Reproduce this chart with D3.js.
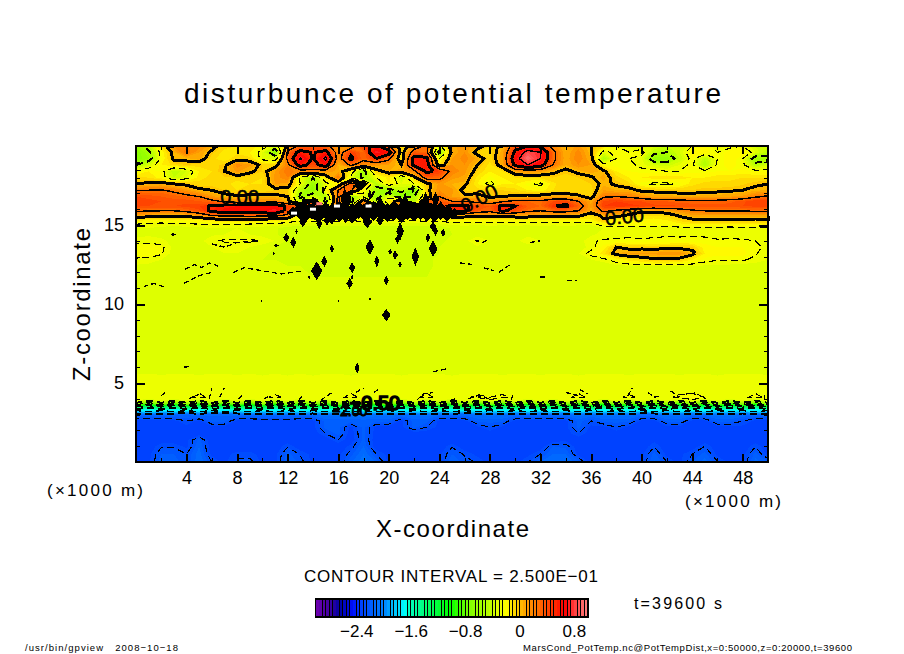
<!DOCTYPE html>
<html>
<head>
<meta charset="utf-8">
<script src="https://cdnjs.cloudflare.com/ajax/libs/d3/7.8.5/d3.min.js"></script>
<style>
html, body { margin: 0; padding: 0; background: #fff; }
svg { display: block; }
text { font-family: "Liberation Sans", sans-serif; fill: #000; }
</style>
</head>
<body>
<svg id="chart" width="904" height="654"></svg>
<script>
// grid of the field: km along x, km along z (top row first)
var xCols = d3.range(0, 51);
var zRows = [20,19.6,19.2,18.8,18.4,18,17.6,17.2,16.8,16.5,16.2,15.9,15.6,15.3,15.1,14.8,14.4,14,13.6,13.2,12.8,12.4,11,9,7,5.6,5.2,4.6,4.1,3.95,3.8,3.65,3.5,3.35,3.2,3,2.6,2.2,1.8,1.4,1,0.5,0];

// potential temperature disturbance, in hundredths of K
var potTempRows = [
[-60,-40,-10,15,20,18,6,-8,-10,-12, -18,-35,5,30,35,30,12,15,45,55, 30,-10,12,30,-30,8,14,5,-5,3, 40,50,45,18,4,12,0,-10,-25,-30, -30,-35,-40,-35,-25,-20,-30,-30,-25,-35,-40],
[-70,-55,-20,5,25,10,-3,-12,-12,-15, -30,-70,30,58,48,58,15,45,30,75, 60,-8,35,30,-60,5,15,-5,-8,8, 55,85,75,30,5,18,2,-30,-20,-25, -20,-45,-50,-35,-15,-15,-25,-15,-15,-30,-45],
[-70,-60,-22,3,3,8,-8,-15,-5,-8, -30,-35,30,78,48,80,15,55,30,50, 30,-12,60,55,-25,10,18,8,-8,10, 65,95,75,30,6,20,5,-50,-25,-25, -30,-65,-65,-40,-20,-45,-25,-15,-25,-60,-55],
[-50,-35,-15,-8,-5,-8,-8,-3,18,12, -5,-5,20,60,40,62,5,28,15,12, 10,0,55,60,-10,15,15,0,-12,8, 55,75,60,25,5,15,10,-20,-22,-22, -28,-35,-38,-30,-22,-50,-22,-18,-22,-45,-35],
[-25,-15,-20,-45,-35,-15,-10,0,12,3, -5,10,25,15,20,15,8,-15,-60,-5, 5,8,20,55,45,20,12,-5,-15,-10, 10,15,12,3,-3,3,8,3,-15,-20, -22,-22,-25,-25,-22,-22,-20,-20,-18,-22,-20],
[-8,-10,-18,-40,-30,-12,-8,-6,-5,-8, -10,12,20,-30,-50,-10,25,-30,-55,-25, -12,-40,-5,35,30,12,8,-12,-22,-15, -10,-8,-8,-5,-8,-5,-2,8,-8,-15, -15,-12,-10,-12,-15,-15,-12,-12,-10,-10,-12],
[0,3,5,0,-3,-8,-8,-6,-15,-10, -10,10,8,-25,-60,-30,-15,35,10,-45, -15,-30,-25,-5,12,5,3,-15,-30,-15, -15,-22,-28,-12,-5,-8,-5,3,-2,-8, -22,-28,-28,-22,-12,-8,-8,-8,-6,-2,0],
[25,25,26,22,12,3,0,-5,-10,-5, -8,-5,-5,-45,-65,-20,25,30,-20,-55, -60,-40,-70,-5,15,12,-5,-8,-5,-5, -8,-15,-18,-10,-8,-10,-8,10,5,5, -3,-3,-5,-5,-5,-3,-3,-2,0,3,6],
[40,38,35,32,30,25,12,4,2,2, 3,3,0,-55,-35,-50,30,-55,-30,-60, -30,-70,-50,-10,25,10,3,6,-3,0, 2,5,6,8,8,3,-5,22,25,22, 15,8,8,6,5,8,8,10,12,22,28],
[45,42,40,38,38,35,30,22,15,15, 15,18,5,-40,20,-60,35,-60,15,-45, -15,20,-50,35,35,25,25,20,15,22, 30,30,28,40,42,25,8,42,45,42, 40,35,35,32,30,30,30,33,38,45,45],
[42,40,40,40,42,45,52,58,60,62, 62,65,45,30,60,-30,30,-20,30,10, -30,35,40,-20,40,55,55,40,35,55, 50,35,30,48,55,35,10,45,48,48, 45,42,42,40,40,38,38,38,40,42,42],
[28,26,25,25,30,38,55,62,62,62, 65,75,40,-40,30,-20,20,-40,20,-10, -40,30,-30,40,-20,52,55,35,30,55, 40,28,25,30,30,25,8,30,22,15, 3,5,8,15,22,25,25,25,25,28,28],
[8,6,5,4,5,12,25,30,30,32, 30,30,20,-20,10,-25,5,-20,5,-20, -20,-5,-10,5,-5,10,8,5,5,5, 8,8,6,6,6,4,-10,5,5,-3, -8,-10,-8,2,8,8,8,8,8,8,10],
[-13,-15,-18,-18,-18,-15,-10,-8,-8,-8, -10,-12,-15,-25,-20,-25,-20,-25,-20,-25, -25,-20,-25,-20,-22,-18,-18,-18,-18,-18, -18,-18,-18,-18,-18,-18,-18,-2,-15,-15, -18,-18,-15,-8,-3,-3,-3,-3,-3,-3,-2],
[-24,-25,-26,-25,-24,-24,-23,-23,-23,-24, -24,-25,-28,-30,-30,-32,-30,-32,-30,-32, -30,-32,-30,-32,-30,-28,-27,-28,-27,-28, -27,-28,-27,-28,-27,-28,-28,-15,-18,-18, -20,-20,-18,-15,-12,-12,-12,-12,-12,-12,-10],
[-30,-30,-32,-33,-33,-32,-30,-31,-30,-32, -33,-34,-38,-39,-39,-38,-39,-38,-39,-39, -39,-38,-39,-38,-39,-34,-33,-34,-33,-33, -33,-33,-32,-33,-32,-33,-33,-30,-28,-29, -28,-28,-29,-28,-27,-28,-28,-29,-28,-28,-29],
[-32,-31,-33,-34,-33,-33,-31,-30,-29,-30, -32,-34,-38,-39,-38,-39,-38,-39,-38,-39, -38,-39,-38,-39,-38,-35,-34,-33,-32,-33, -33,-32,-33,-34,-33,-34,-31,-28,-27,-27, -27,-27,-26,-27,-26,-27,-28,-27,-28,-28,-29],
[-28,-27,-28,-33,-34,-32,-26,-24,-24,-23, -26,-30,-36,-38,-39,-38,-39,-38,-39,-38, -39,-38,-39,-38,-36,-34,-32,-24,-30,-32, -32,-26,-30,-33,-33,-33,-26,-24,-24,-23, -24,-23,-23,-22,-23,-22,-24,-24,-24,-25,-28],
[-22,-22,-23,-32,-33,-32,-30,-29,-28,-30, -33,-35,-37,-38,-38,-36,-38,-38,-36,-38, -38,-38,-36,-38,-35,-33,-32,-31,-30,-30, -32,-33,-33,-32,-32,-33,-28,-18,0,-5, -5,-6,-5,-4,-5,-18,-20,-20,-20,-22,-28],
[-22,-21,-24,-33,-34,-33,-31,-30,-30,-32, -34,-36,-37,-37,-38,-36,-38,-37,-36,-37, -37,-38,-36,-37,-35,-33,-32,-31,-31,-32, -33,-33,-32,-32,-33,-30,-22,-12,5,10, 12,12,15,14,5,-15,-18,-18,-18,-24,-30],
[-26,-27,-30,-33,-33,-33,-32,-32,-33,-33, -35,-35,-36,-36,-37,-36,-37,-36,-36,-37, -36,-36,-36,-36,-34,-33,-32,-32,-33,-33, -33,-34,-33,-33,-34,-33,-30,-28,-20,-12, -8,-3,-3,-5,-15,-22,-24,-24,-24,-27,-30],
[-31,-32,-33,-34,-32,-31,-33,-34,-34,-34, -34,-34,-35,-35,-36,-36,-36,-36,-36,-36, -36,-36,-36,-36,-34,-33,-32,-32,-31,-32, -33,-33,-34,-33,-33,-34,-33,-33,-32,-31, -31,-30,-30,-31,-30,-31,-32,-32,-33,-33,-33],
[-34,-33,-33,-34,-34,-34,-34,-34,-34,-34, -34,-34,-34,-34,-34,-34,-34,-34,-34,-34, -34,-34,-34,-34,-34,-34,-34,-34,-34,-34, -34,-34,-33,-34,-33,-33,-34,-34,-34,-34, -34,-34,-34,-34,-34,-34,-34,-34,-34,-34,-34],
[-34,-34,-34,-34,-33,-34,-34,-33,-34,-34, -34,-34,-34,-33,-34,-34,-34,-34,-34,-33, -34,-34,-34,-34,-33,-34,-34,-34,-34,-33, -34,-34,-34,-34,-33,-34,-34,-34,-34,-34, -33,-34,-34,-34,-34,-34,-33,-34,-34,-34,-34],
[-32,-33,-32,-33,-33,-32,-33,-32,-32,-33, -33,-32,-33,-33,-32,-33,-33,-33,-32,-33, -33,-32,-33,-32,-33,-32,-33,-32,-32,-33, -32,-33,-32,-33,-32,-32,-33,-32,-33,-32, -32,-33,-32,-32,-33,-32,-33,-32,-32,-33,-32],
[-30,-30,-31,-30,-30,-31,-30,-30,-31,-30, -31,-30,-31,-30,-31,-30,-30,-31,-30,-30, -30,-31,-30,-30,-30,-31,-30,-30,-30,-31, -30,-30,-31,-30,-30,-31,-30,-30,-30,-31, -30,-30,-30,-31,-30,-30,-31,-30,-30,-30,-31],
[-27,-28,-27,-28,-27,-27,-28,-27,-27,-27, -28,-27,-28,-27,-28,-27,-27,-28,-27,-27, -27,-28,-27,-27,-27,-28,-27,-27,-28,-27, -27,-28,-27,-27,-27,-28,-27,-27,-28,-27, -27,-27,-28,-27,-27,-27,-28,-27,-27,-28,-27],
[-27,-26,-27,-26,-27,-26,-26,-27,-26,-27, -26,-27,-26,-27,-26,-27,-26,-26,-27,-26, -27,-26,-27,-26,-26,-27,-26,-27,-26,-27, -26,-26,-27,-26,-27,-26,-27,-26,-26,-27, -26,-27,-26,-27,-26,-26,-27,-26,-27,-26,-26],
[-26,-25,-26,-25,-26,-24,-26,-25,-26,-25, -26,-24,-26,-25,-26,-25,-26,-24,-26,-25, -26,-25,-26,-24,-26,-25,-26,-24,-25,-24, -26,-25,-26,-25,-26,-24,-26,-25,-26,-24, -26,-25,-26,-24,-24,-25,-26,-25,-26,-24,-26],
[-25,-34,-25,-34,-25,-34,-25,-34,-25,-34, -25,-34,-25,-34,-25,-34,-25,-34,-25,-34, -25,-34,-25,-34,-25,-34,-25,-34,-25,-34, -25,-34,-25,-34,-25,-34,-25,-34,-25,-34, -25,-34,-25,-34,-25,-34,-25,-34,-25,-34,-25],
[-40,-65,-40,-65,-40,-65,-40,-65,-40,-65, -40,-65,-40,-65,-40,-65,-40,-65,-40,-65, -40,-65,-40,-65,-40,-65,-40,-65,-40,-65, -40,-65,-40,-65,-40,-65,-40,-65,-40,-65, -40,-65,-40,-65,-40,-65,-40,-65,-40,-65,-40],
[-70,-100,-70,-100,-70,-100,-70,-100,-70,-100, -70,-100,-70,-100,-70,-100,-70,-100,-70,-100, -70,-100,-70,-100,-70,-100,-70,-100,-70,-100, -70,-100,-70,-100,-70,-100,-70,-100,-70,-100, -70,-100,-70,-100,-70,-100,-70,-100,-70,-100,-70],
[-120,-140,-120,-140,-120,-140,-120,-140,-120,-140, -120,-140,-120,-140,-120,-140,-120,-140,-120,-140, -120,-140,-120,-140,-120,-140,-120,-140,-120,-140, -120,-140,-120,-140,-120,-140,-120,-140,-120,-140, -120,-140,-120,-140,-120,-140,-120,-140,-120,-140,-120],
[-150,-165,-150,-165,-150,-165,-150,-165,-150,-165, -150,-165,-150,-165,-150,-165,-150,-165,-150,-165, -150,-165,-150,-165,-150,-165,-150,-165,-150,-165, -150,-165,-150,-165,-150,-165,-150,-165,-150,-165, -150,-165,-150,-165,-150,-165,-150,-165,-150,-165,-150],
[-182,-176,-182,-176,-182,-176,-182,-176,-182,-176, -182,-176,-182,-176,-182,-176,-182,-176,-182,-176, -182,-176,-182,-176,-182,-176,-182,-176,-182,-176, -182,-176,-182,-176,-182,-176,-182,-176,-182,-176, -182,-176,-182,-176,-182,-176,-182,-176,-182,-176,-182],
[-210,-212,-210,-212,-214,-210,-214,-214,-210,-210, -208,-208,-208,-210,-210,-207,-207,-207,-204,-207, -207,-210,-207,-207,-210,-210,-212,-210,-207,-210, -210,-212,-210,-212,-210,-207,-210,-207,-207,-207, -212,-212,-207,-207,-210,-210,-207,-207,-210,-212,-210],
[-232,-232,-232,-232,-225,-232,-218,-218,-232,-232, -232,-232,-232,-232,-232,-218,-218,-218,-218,-218, -218,-232,-218,-218,-232,-232,-232,-218,-218,-218, -232,-232,-232,-232,-232,-218,-225,-218,-218,-218, -232,-232,-218,-218,-232,-232,-218,-218,-225,-232,-232],
[-232,-232,-232,-232,-232,-232,-232,-232,-232,-232, -232,-232,-232,-232,-232,-218,-218,-232,-218,-232, -232,-232,-218,-225,-232,-232,-232,-232,-225,-232, -232,-232,-232,-232,-232,-218,-232,-232,-225,-232, -232,-232,-232,-232,-232,-232,-232,-232,-232,-232,-232],
[-234,-234,-234,-234,-234,-234,-234,-234,-234,-234, -234,-234,-234,-234,-234,-225,-218,-234,-218,-234, -234,-234,-234,-234,-234,-234,-234,-234,-234,-234, -234,-234,-234,-234,-234,-225,-234,-234,-234,-234, -234,-234,-234,-234,-234,-234,-234,-234,-234,-234,-234],
[-235,-235,-235,-235,-232,-218,-235,-235,-235,-235, -235,-235,-235,-235,-235,-235,-225,-235,-218,-235, -235,-235,-235,-235,-235,-235,-235,-235,-235,-235, -235,-235,-235,-235,-232,-235,-235,-235,-235,-235, -235,-232,-235,-235,-235,-235,-235,-235,-235,-235,-235],
[-235,-235,-226,-226,-232,-215,-235,-235,-235,-235, -235,-235,-226,-235,-235,-235,-235,-228,-215,-235, -235,-235,-235,-235,-235,-226,-235,-235,-235,-235, -235,-235,-235,-220,-222,-235,-235,-235,-235,-235, -235,-226,-235,-235,-235,-225,-235,-235,-235,-226,-235],
[-232,-232,-220,-220,-225,-212,-232,-232,-228,-228, -232,-232,-218,-226,-232,-232,-232,-222,-210,-225, -232,-232,-232,-232,-232,-220,-226,-232,-232,-232, -232,-232,-225,-215,-215,-232,-232,-232,-232,-232, -232,-218,-232,-232,-225,-218,-232,-232,-232,-218,-232],
[-232,-232,-216,-216,-225,-210,-225,-232,-222,-222, -232,-232,-215,-222,-232,-232,-232,-216,-206,-216, -232,-232,-232,-232,-232,-215,-222,-226,-232,-232, -232,-225,-215,-210,-210,-218,-232,-232,-232,-232, -232,-214,-225,-232,-220,-212,-224,-232,-232,-212,-220]
];

// one grid cell spikes in km: x, z, half width, half height
var spikeX = [13.2,14.5,15.1,18.3,19.3,23.5,20.9,20.7,23.7,24.3,23.1,23.5,22.1,20.5,20.1,18.5,19.05,20.9,15.5,14.9,14.3,17.1,16.9,17.1,19.8,12.45,11.9,12.7,11.1,19.8,17.5,2.95,18.5,10.9,13.7,16,9.9];
var spikeZ = [15.2,15.1,15.3,15.2,15.3,14.9,14.6,14.1,14.6,14.5,14.2,13.5,13,13.1,13.3,13.6,12.7,12.5,13.5,12.7,12.1,12.3,11.3,11.7,11.5,13.9,14.2,14.6,13.7,9.3,5.95,14.4,10.3,13.2,11.7,10.2,10.2];
var spikeW = [.3,.25,.25,.4,.3,.25,.3,.2,.2,.2,.2,.35,.3,.22,.15,.35,.2,.15,.18,.25,.45,.25,.25,.12,.2,.25,.25,.12,.18,.35,.2,.2,.12,.08,.08,.06,.06];
var spikeH = [.35,.35,.35,.4,.35,.35,.6,.3,.3,.25,.3,.55,.6,.3,.2,.5,.4,.2,.25,.35,.6,.35,.35,.15,.3,.35,.3,.15,.12,.4,.35,.1,.1,.1,.15,.1,.1];

// black clump where the lines pile up above x = 12
var clumpX = [12.4,12.9,13.3,13.9,14.4,15,15.5,16.1,16.6,17.1,17.6,18.2,18.8,19.4,19.9,20.4,21,21.5,22,22.5,23,23.6,24.1,24.6,25.2,16.7,19.3,21.3,22.9,13.3,17.7,23.7,16.5,14.8,21.9,18.5,20.1];
var clumpZ = [15.8,15.9,15.7,15.85,15.75,15.9,15.7,15.85,15.8,15.75,15.95,15.8,15.85,15.9,15.8,15.9,15.8,15.95,15.8,15.9,15.85,15.8,15.9,15.7,15.75,16.5,16.4,16.5,16.5,16.5,17.5,16.6,17,17.2,17.3,16.9,17.1];
var clumpW = [.5,.6,.75,.75,.85,.75,.75,.85,.6,.75,.7,.85,.75,.75,.7,.75,.75,.6,.75,.75,.75,.7,.6,.6,.4,.25,.25,.25,.3,.2,.5,.3,.15,.12,.15,.15,.12];
var clumpH = [.35,.5,.6,.5,.6,.55,.65,.65,.7,.65,.6,.65,.6,.65,.6,.65,.7,.65,.55,.6,.65,.65,.6,.45,.3,.6,.5,.6,.6,.35,.3,.5,.4,.3,.3,.35,.3];

// specks left bright inside the clump
var speckX = [14,15.9,18.4,14.5,12.5];
var speckZ = [16,16.2,16.2,16.35,15.75];
var speckFill = ["#ffffff","#ffffff","#ffffff","#ff8080","#ffffff"];

// dashed scraps of the -0.25 line, km pairs x, z, x, z ...
var scraps = [
[3.9,12.2,4.6,12.5,5.2,12.3,5.8,12.6,6.5,12.4],
[7.7,12,8.6,12.3,10,12.1,11.5,11.9,13.2,12.1],
[0.6,11.1,1.4,11.3,2.2,11.1],[3.8,11.3,5,11.8,6,12],
[6,13.8,7,13.6,8,13.9,9.5,14],
[25.6,12.6,26.7,12.5],[27.5,12.3,28.3,12.1],[28.7,12,29.6,12.5],
[34.1,11.5,34.9,11.5],[32,11.7,32.4,11.7],[27.4,13.9,28,14.1],[31.2,13.9,32,14],
[3.8,6,4.3,6.05],[2,4.2,2.3,4.4],[4.2,4,5,4.3],[5.8,4,6,4.7],[6.6,4.1,7,4.7],[8.1,4,8.4,4.2],[10.1,4,10.6,4.2],
[12.9,3.9,13.2,4.3],[14.6,3.9,15.5,4.4],[17.4,4.4,18,4.7],[18.8,4.4,19.2,4.6],
[22.2,3.9,22.7,4.3,23.5,4.4],[23.5,5.7,24,5.8,24.6,5.9],[24.9,3.9,25.5,4.1],
[34,4.4,35,4.2],[35.1,4.6,35.7,4.3],[29.7,3.9,29.8,4.3],[38.9,4.2,39.3,4.7],
[40.5,4.4,41,4.1,41.6,4.2],[42.3,4.5,43,4.1],[43.5,4.3,44.2,4.4],[44.4,4.3,45.1,4],[49.7,3.9,49.8,4.4],
[26.3,4,27,4.2,28,4]
];

// colours of the bar: value stops
var colorValues = [-3,-2.8,-2.65,-2.45,-2.32,-2,-1.69,-1.62,-1.32,-1.03,-0.74,-0.44,-0.33,-0.27,-0.19,0,0.15,0.44,0.66,0.81,1];
var colorStops = ["#7000b0","#4000a0","#0000a0","#0010ff","#0044ff","#0080ff","#00ffff","#00ffc0","#00ff60","#00ff00","#80ff00","#bcff00","#dcff00","#eeff00","#ffff00","#ffc000","#ff9000","#ff4000","#ff0000","#ff4040","#ff8080"];

var barTicks = [-2.4,-1.6,-0.8,0,0.8];
var xMajor = [4,8,12,16,20,24,28,32,36,40,44,48];
var xMinor = d3.range(2, 50, 2);
var zMajor = [5,10,15];
var zMinor = d3.range(1, 20);

// line labels: text, x km, z km, rotation, px size, extra stroke
var lineLabelText = ["0.00","0.00","0.00","\u22122.00","\u22120.50"];
var lineLabelX = [8.2,38.7,27.4,16.9,18.9];
var lineLabelZ = [16.35,15.1,16.3,2.9,3.3];
var lineLabelRot = [0,-6,-28,0,0];
var lineLabelSize = [20,20,20,14,20];
var lineLabelBold = [0.5,0.5,0.5,0.9,1.6];

var svg = d3.select("#chart");
var xScale = d3.scaleLinear().domain([0, 50]).range([136, 768]);
var zScale = d3.scaleLinear().domain([0, 20]).range([462, 146]);
var barScale = d3.scaleLinear().domain([-3, 1]).range([316, 588]);
var colorOf = d3.scaleLinear().domain(colorValues).range(colorStops).interpolate(d3.interpolateRgb);

var nx = xCols.length, nz = zRows.length;
var values = [];
potTempRows.forEach(function(r){ r.forEach(function(v){ values.push(v / 100); }); });

var colToKm = d3.scaleLinear().domain(d3.range(nx)).range(xCols).clamp(true);
var rowToKm = d3.scaleLinear().domain(d3.range(nz)).range(zRows).clamp(true);
function px(c){ return xScale(colToKm(c - 0.5)); }
function py(r){ return zScale(rowToKm(r - 0.5)); }

var gridPath = d3.geoPath(d3.geoTransform({
  point: function(x, y){ this.stream.point(px(x), py(y)); }
}));

// filled bands, low to high
var bands = d3.range(0, 80).map(function(i){ return -3 + i * 0.05; });
var plot = svg.append("g");
plot.append("rect").attr("x", 136).attr("y", 146).attr("width", 632).attr("height", 316).attr("fill", colorOf(-3));
plot.selectAll("path.band")
  .data(d3.contours().size([nx, nz]).thresholds(bands)(values))
  .enter().append("path")
  .attr("class", "band")
  .attr("d", gridPath)
  .attr("fill", function(d){ return colorOf(d.value + 0.025); })
  .attr("shape-rendering", "crispEdges");

// contour lines every 0.25, thick every second one, dashed below zero
var lineLevels = d3.range(0, 15).map(function(i){ return -2.75 + i * 0.25; });
function ringToPath(ring){
  var s = "", pen = false;
  for (var i = 1; i < ring.length; i++){
    var a = ring[i-1], b = ring[i];
    var edge = (a[0] === 0 && b[0] === 0) || (a[0] === nx && b[0] === nx) || (a[1] === 0 && b[1] === 0) || (a[1] === nz && b[1] === nz);
    if (edge){ pen = false; continue; }
    if (!pen) s += "M" + px(a[0]).toFixed(1) + "," + py(a[1]).toFixed(1);
    s += "L" + px(b[0]).toFixed(1) + "," + py(b[1]).toFixed(1);
    pen = true;
  }
  return s;
}
lineLevels.forEach(function(level, i){
  var c = d3.contours().size([nx, nz]).thresholds([level])(values)[0];
  var d = "";
  c.coordinates.forEach(function(poly){
    poly.forEach(function(ring){ d += ringToPath(ring); });
  });
  var heavy = (i % 2 == 1);
  plot.append("path")
    .attr("d", d)
    .attr("fill", "none")
    .attr("stroke", "#000")
    .attr("stroke-width", heavy ? (level < 0 ? 2 : 3) : (level < 0 ? 1.1 : 1.4))
    .attr("stroke-dasharray", level < 0 ? "7,4" : null)
    .attr("shape-rendering", "crispEdges");
});

// scraps of dashed line
var scrapLine = d3.line().x(function(d){ return xScale(d[0]); }).y(function(d){ return zScale(d[1]); });
plot.selectAll("path.scrap").data(scraps).enter().append("path")
  .attr("class", "scrap")
  .attr("d", function(s){
    var pts = [];
    for (var i = 0; i < s.length; i += 2) pts.push([s[i], s[i+1]]);
    return scrapLine(pts);
  })
  .attr("fill", "none").attr("stroke", "#000").attr("stroke-width", 1.3)
  .attr("stroke-dasharray", "5,3")
  .attr("shape-rendering", "crispEdges");

function diamond(x, z, w, h){
  return scrapLine([[x-w,z],[x,z+h],[x+w,z],[x,z-h]]) + "Z";
}
function drawDiamonds(xs, zs, ws, hs){
  plot.append("g").selectAll("path").data(xs).enter().append("path")
    .attr("d", function(d, i){ return diamond(xs[i], zs[i], ws[i], hs[i]); })
    .attr("fill", "#000")
    .attr("shape-rendering", "crispEdges");
}
drawDiamonds(spikeX, spikeZ, spikeW, spikeH);
drawDiamonds(clumpX, clumpZ, clumpW, clumpH);

plot.append("g").selectAll("rect").data(speckX).enter().append("rect")
  .attr("x", function(d){ return xScale(d) - 3; })
  .attr("y", function(d, i){ return zScale(speckZ[i]) - 1.5; })
  .attr("width", 6).attr("height", 3)
  .attr("fill", function(d, i){ return speckFill[i]; });

// line labels
plot.selectAll("text.lab").data(lineLabelText).enter().append("text")
  .attr("class", "lab")
  .attr("text-anchor", "middle")
  .attr("font-size", function(d, i){ return lineLabelSize[i]; })
  .attr("stroke", "#000")
  .attr("stroke-width", function(d, i){ return lineLabelBold[i]; })
  .attr("transform", function(d, i){
    return "translate(" + xScale(lineLabelX[i]) + "," + zScale(lineLabelZ[i]) + ") rotate(" + lineLabelRot[i] + ")";
  })
  .text(function(d){ return d; });

// axes, ticks inward on all four sides
function styleAxis(g, wide){
  g.select(".domain").remove();
  g.selectAll(".tick line").attr("stroke", "#000").attr("stroke-width", wide).attr("shape-rendering", "crispEdges");
  g.selectAll(".tick text").attr("font-size", 18).attr("font-family", "Liberation Sans").attr("fill", "#000");
}
var noLabel = function(){ return ""; };
svg.append("g").attr("transform", "translate(0,462)")
  .call(d3.axisBottom(xScale).tickValues(xMinor).tickSizeInner(-4).tickSizeOuter(0).tickFormat(noLabel)).call(styleAxis, 1);
svg.append("g").attr("transform", "translate(0,146)")
  .call(d3.axisTop(xScale).tickValues(xMinor).tickSizeInner(-4).tickSizeOuter(0).tickFormat(noLabel)).call(styleAxis, 1);
svg.append("g").attr("transform", "translate(136,0)")
  .call(d3.axisLeft(zScale).tickValues(zMinor).tickSizeInner(-4).tickSizeOuter(0).tickFormat(noLabel)).call(styleAxis, 1);
svg.append("g").attr("transform", "translate(768,0)")
  .call(d3.axisRight(zScale).tickValues(zMinor).tickSizeInner(-4).tickSizeOuter(0).tickFormat(noLabel)).call(styleAxis, 1);
svg.append("g").attr("transform", "translate(0,462)")
  .call(d3.axisBottom(xScale).tickValues(xMajor).tickSizeInner(-8).tickSizeOuter(0).tickPadding(9).tickFormat(d3.format("d"))).call(styleAxis, 2);
svg.append("g").attr("transform", "translate(0,146)")
  .call(d3.axisTop(xScale).tickValues(xMajor).tickSizeInner(-8).tickSizeOuter(0).tickFormat(noLabel)).call(styleAxis, 2);
svg.append("g").attr("transform", "translate(136,0)")
  .call(d3.axisLeft(zScale).tickValues(zMajor).tickSizeInner(-9).tickSizeOuter(0).tickPadding(12).tickFormat(d3.format("d"))).call(styleAxis, 2);
svg.append("g").attr("transform", "translate(768,0)")
  .call(d3.axisRight(zScale).tickValues(zMajor).tickSizeInner(-9).tickSizeOuter(0).tickFormat(noLabel)).call(styleAxis, 2);

svg.append("rect").attr("x", 136).attr("y", 146).attr("width", 632).attr("height", 316)
  .attr("fill", "none").attr("stroke", "#000").attr("stroke-width", 2.6).attr("shape-rendering", "crispEdges");

// texts
function label(str, x, y, size, width, anchor){
  var t = svg.append("text").attr("x", x).attr("y", y).attr("font-size", size).attr("text-anchor", anchor || "start").text(str);
  if (width) t.attr("textLength", width).attr("lengthAdjust", "spacing");
  return t;
}
label("disturbunce of potential temperature", 184, 103, 28, 537);
label("(\u00d71000 m)", 47, 496, 17, 96);
label("(\u00d71000 m)", 685, 507, 17, 96);
label("X-coordinate", 376, 537, 24, 153);
label("Z-coordinate", 0, 0, 24, 153).attr("transform", "translate(90,381) rotate(-90)");
label("CONTOUR INTERVAL = 2.500E\u221201", 304, 582, 17, 294);
label("t=39600 s", 634, 609, 16, 88);
label("/usr/bin/gpview   2008\u221210\u221218", 25, 651, 9.5, 153).attr("xml:space", "preserve");
label("MarsCond_PotTemp.nc@PotTempDist,x=0:50000,z=0:20000,t=39600", 523, 651, 9.5, 329);

// legend bar
svg.append("rect").attr("x", 315).attr("y", 598).attr("width", 274).attr("height", 20).attr("fill", "#000");
svg.append("g").selectAll("rect").data(bands).enter().append("rect")
  .attr("x", function(d){ return barScale(d); })
  .attr("y", 600)
  .attr("width", 2.5)
  .attr("height", 16)
  .attr("fill", function(d){ return colorOf(d + 0.025); })
  .attr("shape-rendering", "crispEdges");
svg.selectAll("text.bar").data(barTicks).enter().append("text")
  .attr("class", "bar")
  .attr("x", function(d){ return barScale(d); })
  .attr("y", 637)
  .attr("font-size", 17)
  .attr("text-anchor", "middle")
  .text(function(d){ return d3.format(".1~f")(d).replace("-", "\u2212"); });
</script>
</body>
</html>
